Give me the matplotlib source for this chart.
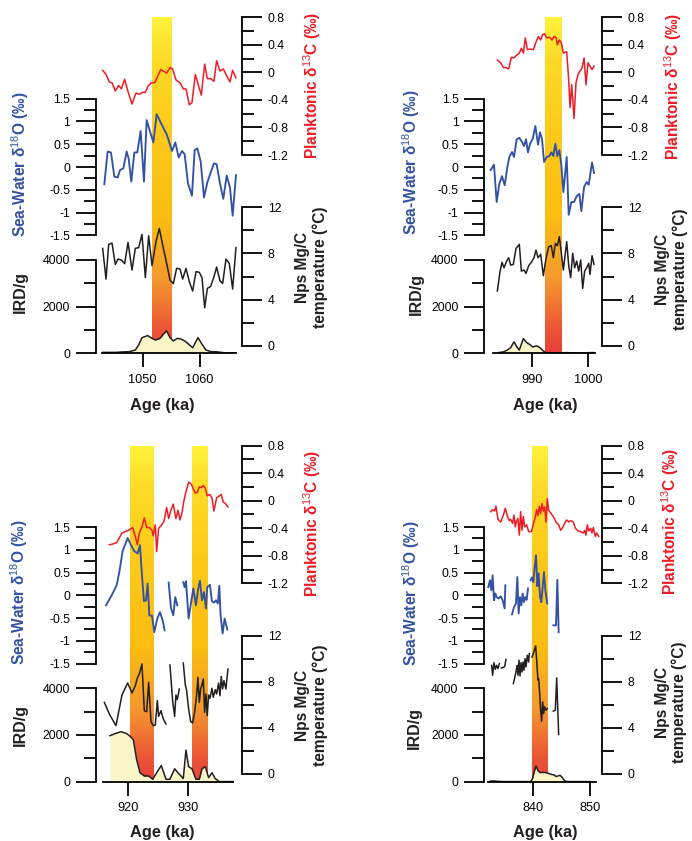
import numpy as np
import matplotlib
matplotlib.use("Agg")
import matplotlib.pyplot as plt
from matplotlib.colors import LinearSegmentedColormap
from matplotlib.ticker import FixedLocator, FuncFormatter

plt.rcParams['font.family'] = ['Liberation Sans', 'DejaVu Sans']
plt.rcParams['mathtext.fontset'] = 'custom'
plt.rcParams['mathtext.rm'] = 'Liberation Sans'
plt.rcParams['mathtext.bf'] = 'Liberation Sans:bold'
plt.rcParams['axes.unicode_minus'] = False

# ---------------- data ----------------
# panel 1 (~1043-1067 ka)
p1_age_c13 = [1043.0, 1043.57, 1044.15, 1044.62, 1045.2, 1045.79, 1046.26, 1046.84, 1047.43, 1048.13,
              1048.83, 1049.42, 1050.0, 1050.47, 1050.94, 1051.52, 1052.11, 1052.57, 1053.16, 1054.21,
              1054.8, 1055.26, 1055.85, 1056.55, 1057.13, 1057.6, 1058.19, 1058.65, 1059.24, 1059.82,
              1060.29, 1060.88, 1061.35, 1061.93, 1062.51, 1062.98, 1063.57, 1064.15, 1064.74, 1065.32,
              1065.79, 1066.37]
p1_c13 = [0.03, -0.03, -0.14, -0.15, -0.27, -0.19, -0.24, -0.10, -0.28, -0.46,
          -0.30, -0.32, -0.29, -0.29, -0.20, -0.15, -0.15, -0.07, 0.04, -0.01,
          0.07, 0.05, -0.11, -0.15, -0.24, -0.24, -0.47, -0.44, -0.03, -0.20,
          -0.33, 0.12, -0.09, -0.09, -0.13, 0.17, 0.02, 0.05, -0.05, -0.14,
          0.03, -0.08]
p1_age_o18 = [1043.27, 1043.86, 1044.44, 1045.03, 1045.61, 1046.02, 1046.61, 1047.19, 1047.54, 1048.01,
              1048.54, 1049.06, 1049.65, 1050.23, 1050.70, 1051.29, 1051.87, 1052.46, 1053.04, 1053.63,
              1054.21, 1054.68, 1055.15, 1055.73, 1056.32, 1056.9, 1057.37, 1057.95, 1058.65, 1059.12,
              1059.59, 1060.18, 1060.76, 1061.35, 1061.93, 1062.51, 1062.98, 1063.57, 1064.15, 1064.74,
              1065.32, 1065.79, 1066.37]
p1_o18 = [-0.38, 0.34, 0.32, -0.21, -0.23, -0.07, -0.03, 0.34, 0.19, -0.32,
          0.32, 0.32, 0.79, -0.32, 1.03, 0.78, 0.54, 1.16, 1.01, 0.86,
          0.72, 0.54, 0.35, 0.54, 0.21, 0.35, 0.28, -0.36, -0.63, 0.37,
          0.41, 0.12, -0.67, -0.34, -0.12, 0.08, 0.06, -0.36, -0.70, -0.19,
          -0.45, -1.07, -0.18]
p1_age_t = [1042.98, 1043.57, 1044.04, 1044.62, 1045.2, 1045.67, 1046.26, 1046.84, 1047.43, 1048.13,
            1048.71, 1049.3, 1049.88, 1050.47, 1051.05, 1051.64, 1052.34, 1052.92, 1053.51, 1054.21,
            1054.8, 1055.38, 1055.96, 1056.55, 1057.02, 1057.6, 1058.19, 1058.77, 1059.36, 1059.94,
            1060.41, 1060.88, 1061.35, 1061.93, 1062.51, 1062.98, 1063.57, 1064.04, 1064.62, 1065.2,
            1065.79, 1066.37]
p1_t = [8.44, 5.78, 8.79, 8.90, 7.05, 7.51, 7.43, 7.11, 8.96, 6.56,
        8.44, 8.50, 9.65, 5.90, 9.54, 6.94, 9.02, 10.17, 8.73, 7.14,
        5.69, 5.38, 6.71, 6.65, 5.78, 6.71, 5.55, 4.74, 6.42, 6.36,
        5.90, 3.29, 4.97, 5.14, 5.98, 6.82, 5.61, 5.40, 7.51, 7.14,
        4.91, 8.50]
p1_age_ird = [1043.0, 1044.15, 1045.32, 1046.49, 1047.66, 1048.71, 1049.3, 1049.88, 1050.88, 1051.64,
              1052.22, 1053.04, 1053.63, 1054.21, 1054.8, 1055.38, 1056.08, 1056.67, 1057.37, 1058.07,
              1058.77, 1059.71, 1060.41, 1061.11, 1061.99, 1062.87, 1063.74, 1064.62, 1065.5, 1066.26]
p1_ird = [40, 40, 40, 60, 70, 140, 360, 670, 760, 640,
          570, 640, 820, 960, 670, 530, 640, 620, 530, 390,
          240, 670, 390, 140, 70, 70, 40, 15, 15, 15]
p1_bands = [(1051.6, 1055.0)]

# panel 2 (~983-1001 ka)
p2_age_c13 = [983.94, 984.53, 985.0, 985.47, 985.94, 986.41, 986.88, 987.35, 987.82, 988.18,
              988.53, 988.88, 989.24, 989.71, 990.29, 990.76, 991.18, 991.59, 991.94, 992.29,
              992.65, 993.12, 993.59, 993.94, 994.29, 994.53, 994.88, 995.24, 995.59, 996.18,
              996.53, 996.76, 997.06, 997.47, 997.82, 998.18, 998.53, 998.88, 999.24, 999.59,
              999.94, 1000.29, 1000.65, 1001.0]
p2_c13 = [0.18, 0.14, 0.07, 0.07, 0.05, 0.22, 0.21, 0.25, 0.28, 0.35,
          0.28, 0.50, 0.33, 0.34, 0.33, 0.44, 0.52, 0.47, 0.55, 0.56,
          0.50, 0.51, 0.47, 0.52, 0.51, 0.40, 0.47, 0.43, 0.28, 0.30,
          -0.11, -0.51, -0.18, -0.67, -0.15, -0.03, 0.02, 0.06, 0.21, -0.18,
          0.14, 0.09, 0.04, 0.09]
p2_age_o18 = [982.76, 983.35, 983.82, 984.29, 984.76, 985.24, 985.71, 986.06, 986.53, 986.88,
              987.35, 987.82, 988.29, 988.65, 989.0, 989.35, 989.71, 990.18, 990.65, 991.12,
              991.47, 991.82, 992.18, 992.65, 993.12, 993.47, 993.82, 994.18, 994.53, 994.88,
              995.24, 995.59, 996.18, 996.53, 997.0, 997.47, 997.94, 998.41, 998.76, 999.24,
              999.71, 1000.06, 1000.65, 1001.0]
p2_o18 = [-0.07, 0.05, -0.77, -0.37, -0.20, -0.40, 0.0, 0.22, 0.33, 0.22,
          0.61, 0.64, 0.55, 0.46, 0.61, 0.32, 0.51, 0.62, 0.90, 0.49,
          0.76, 0.62, 0.11, 0.22, 0.24, 0.32, 0.24, 0.51, 0.24, 0.37,
          0.04, -0.55, 0.22, -1.05, -0.77, -0.77, -0.64, -0.59, -0.97, -0.44,
          -0.33, -0.39, 0.10, -0.13]
p2_age_t = [983.94, 984.41, 984.76, 985.12, 985.59, 985.94, 986.29, 986.76, 987.24, 987.82,
            988.18, 988.65, 989.0, 989.47, 989.94, 990.41, 990.76, 991.12, 991.59, 992.06,
            992.53, 993.0, 993.47, 993.82, 994.18, 994.53, 994.88, 995.24, 995.59, 996.18,
            996.53, 996.88, 997.24, 997.59, 997.94, 998.29, 998.65, 999.0, 999.35, 999.71,
            1000.06, 1000.29, 1000.65, 1001.0]
p2_t = [4.74, 6.42, 7.23, 6.76, 7.34, 7.63, 6.99, 7.05, 8.44, 8.79,
        6.47, 6.56, 6.27, 6.94, 7.23, 7.63, 8.29, 7.63, 7.92, 6.07,
        7.57, 8.58, 8.67, 7.63, 8.87, 8.67, 9.45, 8.01, 6.56, 9.02,
        6.94, 5.90, 8.01, 6.76, 7.34, 6.47, 7.43, 4.97, 6.47, 6.76,
        7.14, 6.18, 7.80, 7.05]
p2_age_ird = [984.12, 985.0, 985.71, 986.29, 986.88, 987.35, 987.82, 988.53, 989.12, 989.71,
              990.18, 990.88, 991.47, 992.06, 992.53, 993.24, 994.41, 996.18, 997.35, 999.12,
              1000.29, 1001.0]
p2_ird = [30, 60, 140, 240, 490, 290, 140, 630, 460, 370,
          270, 320, 240, 100, 30, 15, 15, 30, 15, 15,
          30, 30]
p2_bands = [(992.35, 995.3)]

# panel 3 (~916-937 ka), nan = gap in record
p3_age_c13 = [916.80, 917.36, 918.03, 918.48, 918.93, 919.49, 920.06, 920.73, 921.18, 921.52,
              921.85, 922.3, 922.70, 923.09, 923.54, 923.99, 924.21, 924.55, 924.78, 925.11,
              925.56, 926.01, 926.46, 926.80, 927.13, 927.58, 928.03, 928.37, 928.71, 929.04,
              929.38, 929.72, 930.17, 930.62, 930.96, 931.29, 931.63, 931.97, 932.30, 932.64,
              932.98, 933.31, 933.76, 934.10, 934.44, 934.89, 935.34, 935.67, 936.01, 936.35,
              936.80]
p3_c13 = [-0.64, -0.63, -0.61, -0.54, -0.47, -0.45, -0.43, -0.39, -0.52, -0.64,
          -0.47, -0.38, -0.25, -0.39, -0.39, -0.43, -0.51, -0.35, -0.74, -0.40,
          -0.36, -0.30, -0.10, -0.26, -0.15, -0.05, -0.26, -0.14, -0.28, -0.18,
          0.0, 0.13, 0.27, 0.24, 0.17, 0.11, 0.12, 0.20, 0.19, 0.22,
          0.18, 0.07, 0.09, 0.04, -0.15, 0.04, 0.07, 0.09, -0.02, -0.04,
          -0.09]
p3_age_o18 = [916.24, 916.80, 917.36, 918.03, 918.48, 919.04, 919.89, 920.45, 921.01, 921.57,
              921.97, 922.30, 922.64, 922.98, 923.26, 923.54, 923.99, 924.38, 924.89, 925.34,
              925.79, 926.12, 926.5,
              926.80, 927.19, 927.58, 927.92, 928.26, 928.8,
              929.27, 929.49, 929.72, 930.17, 930.51, 930.96, 931.40, 931.74, 932.08, 932.42,
              932.75, 933.09, 933.31, 933.76, 934.10, 934.44, 934.78, 935.11, 935.34, 935.56,
              935.90, 936.24, 936.69]
p3_o18 = [-0.22, -0.09, 0.04, 0.22, 0.51, 0.97, 1.26, 1.10, 0.97, 0.92,
          1.10, 0.44, -0.13, -0.11, 0.26, -0.44, -0.45, -0.81, -0.51, -0.37,
          -0.55, -0.77, np.nan,
          0.28, -0.28, -0.44, -0.04, -0.22, np.nan,
          0.29, 0.18, 0.31, -0.51, -0.22, 0.15, -0.22, 0.11, 0.32, -0.11,
          0.07, -0.29, 0.18, 0.23, -0.13, -0.16, -0.11, -0.18, 0.21, -0.44,
          -0.84, -0.51, -0.75]
p3_age_t = [915.96, 916.80, 917.92, 918.93, 919.89, 920.62, 921.18, 921.57, 921.85, 922.30,
            922.70, 923.09, 923.43, 923.82, 924.21, 924.55, 924.89, 925.11, 925.51, 925.90,
            926.35, 926.7,
            927.02, 927.47, 927.81, 928.03, 928.26, 928.60, 928.9,
            929.27, 929.61, 929.83, 930.17, 930.51, 930.84, 931.18, 931.52, 931.74, 931.97,
            932.19, 932.42, 932.64, 932.87, 933.09, 933.31, 933.54, 933.76, 934.10, 934.33,
            934.66, 934.89, 935.22, 935.45, 935.67, 935.90, 936.12, 936.46, 936.80]
p3_t = [6.21, 5.20, 4.19, 6.85, 7.89, 7.02, 7.66, 8.38, 8.67, 9.54,
        5.49, 5.40, 7.95, 4.54, 4.19, 4.25, 6.36, 5.0, 5.49, 4.77,
        4.34, np.nan,
        9.45, 6.36, 5.0, 6.85, 6.45, 7.37, np.nan,
        9.62, 7.72, 7.23, 5.64, 4.54, 4.42, 5.35, 6.85, 8.38, 6.21,
        7.37, 7.72, 8.24, 5.35, 6.94, 5.06, 6.85, 6.56, 7.43, 6.65,
        7.31, 6.94, 7.89, 6.79, 8.47, 7.37, 8.09, 7.37, 9.10]
p3_age_ird = [916.91, 917.81, 918.76, 919.72, 920.17, 920.84, 921.40, 921.97, 922.70, 923.43,
              924.10, 924.78, 925.56, 926.35, 927.02, 927.81, 928.48, 929.27, 929.72, 930.17,
              930.73, 931.40, 931.97, 932.42, 932.98, 933.54, 934.10, 934.66, 935.34, 937.58]
p3_ird = [1970, 2060, 2140, 2060, 1970, 1800, 950, 380, 240, 240,
          100, 380, 690, 100, 100, 550, 350, 130, 1350, 640,
          550, 100, 100, 550, 640, 170, 380, 130, 0, 0]
p3_bands = [(920.3, 924.3), (930.75, 933.4)]

# panel 4 (~832-852 ka)
p4_age_c13 = [832.47, 832.82, 833.18, 833.41, 833.76, 834.24, 834.71, 835.06, 835.41, 835.76,
              836.0, 836.35, 836.59, 836.82, 837.06, 837.29, 837.53, 837.76, 838.0, 838.24,
              838.47, 838.82, 839.18, 839.65, 840.0, 840.35, 840.59, 840.82, 841.06, 841.29,
              841.53, 841.76, 842.0, 842.24, 842.47, 842.71, 843.06, 843.53, 844.0, 844.47,
              844.82, 845.18, 845.53, 845.88, 846.24, 846.59, 847.06, 847.41, 847.88, 848.35,
              848.82, 849.06, 849.29, 849.53, 849.76, 850.12, 850.35, 850.59, 850.94, 851.18,
              851.53]
p4_c13 = [-0.16, -0.13, -0.15, -0.08, -0.27, -0.31, -0.21, -0.11, -0.22, -0.29,
          -0.27, -0.33, -0.21, -0.38, -0.29, -0.26, -0.50, -0.16, -0.43, -0.23,
          -0.38, -0.35, -0.45, -0.45, -0.34, -0.24, -0.13, -0.22, -0.08, -0.19,
          -0.04, -0.15, -0.09, -0.31, 0.03, -0.14, -0.18, -0.23, -0.31, -0.35,
          -0.43, -0.39, -0.33, -0.28, -0.31, -0.29, -0.31, -0.40, -0.44, -0.45,
          -0.47, -0.43, -0.50, -0.35, -0.44, -0.40, -0.47, -0.39, -0.52, -0.47,
          -0.52]
p4_age_o18 = [832.06, 832.35, 832.59, 832.82, 833.06, 833.29, 833.53, 833.88, 834.24, 834.59,
              834.94, 835.06, 835.6,
              836.24, 836.59, 836.94, 837.18, 837.41, 837.65, 837.88, 838.12, 838.35, 838.59,
              838.82, 839.06, 839.3,
              839.53, 839.76, 840.0, 840.24, 840.47, 840.71, 840.94, 841.18, 841.41, 841.65,
              841.88, 842.12, 842.47, 843.0,
              843.53, 844.0, 844.24, 844.47]
p4_o18 = [0.18, 0.33, 0.11, 0.44, -0.11, 0.04, -0.04, -0.07, -0.02, -0.11,
          -0.29, 0.22, np.nan,
          -0.42, -0.26, -0.18, 0.40, -0.40, -0.04, -0.22, 0.04, -0.15, -0.04,
          -0.10, 0.15, np.nan,
          0.33, 0.39, 0.29, 0.62, 0.88, 0.20, 0.48, -0.04, -0.15, 0.18,
          0.51, 0.11, -0.18, np.nan,
          -0.66, -0.66, 0.34, -0.81]
p4_age_t = [832.65, 832.82, 833.06, 833.29, 833.53, 833.76, 834.0, 834.2,
            834.35, 834.71, 834.94, 835.18, 835.8,
            836.47, 836.71, 836.94, 837.12, 837.29, 837.47, 837.65, 837.82, 838.0, 838.18,
            838.35, 838.53, 838.71, 838.94, 839.18, 839.29, 839.5,
            839.76, 840.0, 840.24, 840.41, 840.59, 840.82, 840.94, 841.12, 841.29, 841.47,
            841.65, 841.82, 842.0, 842.24, 842.47, 843.0,
            843.53, 843.88, 844.12, 844.47]
p4_t = [9.42, 8.56, 9.65, 9.08, 9.42, 9.14, 9.57, np.nan,
        9.19, 9.25, 9.31, 9.94, np.nan,
        7.84, 8.33, 8.85, 9.42, 8.56, 9.86, 8.50, 9.65, 8.85, 9.71,
        8.99, 10.0, 9.28, 10.29, 9.71, 10.43, np.nan,
        10.14, 10.43, 10.86, 11.1, 9.86, 8.13, 8.27, 6.97, 5.53, 4.58,
        6.25, 5.24, 5.82, 5.53, 5.68, np.nan,
        5.45, 5.53, 8.33, 3.43]
p4_age_ird = [832.35, 832.94, 833.53, 834.71, 836.47, 838.24, 839.53, 839.88, 840.12, 840.47,
              840.82, 841.18, 841.65, 842.12, 842.59, 842.94, 843.29, 843.65, 844.0, 844.35,
              844.71, 845.06, 845.41, 845.88, 847.65, 849.41, 850.12]
p4_ird = [15, 30, 15, 0, 0, 0, 0, 140, 390, 670,
          470, 390, 390, 390, 360, 330, 300, 290, 220, 240,
          270, 190, 70, 0, 0, 0, 0]
p4_bands = [(839.75, 842.4)]

# ---------------- layout (pixels of the 692x841 picture) ----------------
W, H = 692, 841
BLUE = '#3352a3'
RED = '#ee1c25'
BLACK = '#231f20'
FILL = '#f8f5c8'

band_cmap = LinearSegmentedColormap.from_list('band', [
    (0.0, '#fff33b'), (0.12, '#fddb28'), (0.35, '#fcc91a'), (0.6, '#fbbd12'),
    (0.78, '#f49a2e'), (0.93, '#eb5536'), (1.0, '#e8403a')])

fmt = FuncFormatter(lambda v, p: f'{round(v, 3):g}')


def rect(x0, y0, x1, y1):
    return [x0 / W, 1 - y1 / H, (x1 - x0) / W, (y1 - y0) / H]


def style_y(ax, side, lo, hi, major, minor):
    ax.patch.set_visible(False)
    for s in ax.spines:
        ax.spines[s].set_visible(s == side)
        ax.spines[s].set_linewidth(1.3)
    ax.set_ylim(lo, hi)
    ax.set_xticks([])
    if side == 'right':
        ax.yaxis.tick_right()
    ax.yaxis.set_major_locator(FixedLocator(major))
    ax.yaxis.set_minor_locator(FixedLocator(minor))
    ax.yaxis.set_major_formatter(fmt)
    ax.tick_params(axis='y', which='major', direction='out', length=14.5, width=1.3,
                   labelsize=8.8, pad=4, colors='black')
    ax.tick_params(axis='y', which='minor', direction='out', length=8.6, width=1.3)


def draw_panel(col, row, xlim, span, xt, bands, c13, o18, temp, ird, labels):
    L = [95.7, 484.3][col]
    R = [242.0, 602.3][col]
    dy = [0, 428.3][row]

    # warm interval shading
    axb = fig.add_axes(rect(L, 17.3 + dy, R, 353.3 + dy))
    axb.set_xlim(*xlim)
    axb.set_ylim(0, 1)
    axb.axis('off')
    grad = np.linspace(0, 1, 256).reshape(-1, 1)
    for b0, b1 in bands:
        axb.imshow(grad, extent=(b0, b1, 0, 1), aspect='auto', cmap=band_cmap)
    axb.set_xlim(*xlim)

    # planktonic d13C
    ax1 = fig.add_axes(rect(L, 17.3 + dy, R, 155.0 + dy))
    ax1.set_xlim(*xlim)
    style_y(ax1, 'right', -1.2, 0.8, np.linspace(-1.2, 0.8, 6), np.linspace(-1.2, 0.8, 11))
    ax1.plot(c13[0], c13[1], color=RED, lw=1.1, clip_on=False)

    # sea-water d18O
    ax2 = fig.add_axes(rect(L, 98.7 + dy, R, 235.3 + dy))
    ax2.set_xlim(*xlim)
    style_y(ax2, 'left', -1.5, 1.5, np.linspace(-1.5, 1.5, 7), np.linspace(-1.5, 1.5, 13))
    ax2.plot(o18[0], o18[1], color=BLUE, lw=1.35, clip_on=False)

    # Mg/Ca temperature
    ax3 = fig.add_axes(rect(L, 207.3 + dy, R, 345.7 + dy))
    ax3.set_xlim(*xlim)
    style_y(ax3, 'right', 0, 12, [0, 4, 8, 12], [2, 6, 10])
    ax3.plot(temp[0], temp[1], color=BLACK, lw=1.1, clip_on=False)

    # IRD + age axis
    ax4 = fig.add_axes(rect(L, 260.0 + dy, R, 353.3 + dy))
    ax4.set_xlim(*xlim)
    style_y(ax4, 'left', 0, 4000, [0, 2000, 4000], [1000, 3000])
    ax4.spines['bottom'].set_visible(True)
    ax4.spines['bottom'].set_bounds(*span)
    ax4.set_xticks(xt)
    ax4.tick_params(axis='x', direction='out', length=10, width=1.3, labelsize=9.2, pad=5)
    ax4.fill_between(ird[0], 0, ird[1], color=FILL, lw=0)
    ax4.plot(ird[0], ird[1], color=BLACK, lw=1.1)

    # axis titles
    (xo, yo), (xi, yi), (xc, yc), (xtm, ytm), (xa, ya) = labels
    fig.text(xo / W, 1 - yo / H, r'Sea-Water δ$^{\mathrm{18}}$O (‰)', color=BLUE,
             rotation=90, ha='center', va='center', fontsize=11.2, fontweight='bold')
    fig.text(xi / W, 1 - yi / H, 'IRD/g', color=BLACK, rotation=90, ha='center', va='center',
             fontsize=11.5, fontweight='bold')
    fig.text(xc / W, 1 - yc / H, r'Planktonic δ$^{\mathrm{13}}$C (‰)', color=RED,
             rotation=90, ha='center', va='center', fontsize=11.2, fontweight='bold')
    fig.text(xtm / W, 1 - ytm / H, 'Nps Mg/C\ntemperature (°C)', color=BLACK, rotation=90,
             ha='center', va='center', multialignment='center', fontsize=11.2,
             fontweight='bold', linespacing=1.15)
    fig.text(xa / W, 1 - ya / H, 'Age (ka)', color='#231f20', ha='center', va='center',
             fontsize=11.8, fontweight='bold')


fig = plt.figure(figsize=(6.92, 8.41), dpi=100)

draw_panel(0, 0, (1041.76, 1067.43), (1042.9, 1066.3), [1050, 1060], p1_bands,
           (p1_age_c13, p1_c13), (p1_age_o18, p1_o18), (p1_age_t, p1_t), (p1_age_ird, p1_ird),
           [(20, 164), (20.7, 292), (312.3, 85.5), (311.7, 267), (162.7, 405)])
draw_panel(1, 0, (981.64, 1002.46), (983.1, 1001.1), [990, 1000], p2_bands,
           (p2_age_c13, p2_c13), (p2_age_o18, p2_o18), (p2_age_t, p2_t), (p2_age_ird, p2_ird),
           [(411, 162), (416, 294), (672.7, 86.7), (671.7, 269), (545.3, 405)])
draw_panel(0, 1, (914.5, 939.17), (915.7, 937.6), [920, 930], p3_bands,
           (p3_age_c13, p3_c13), (p3_age_o18, p3_o18), (p3_age_t, p3_t), (p3_age_ird, p3_ird),
           [(19.5, 592.5), (20.7, 725), (312, 523), (311.7, 705), (162.7, 832.7)])
draw_panel(1, 1, (831.35, 852.17), (832.0, 851.0), [840, 850], p4_bands,
           (p4_age_c13, p4_c13), (p4_age_o18, p4_o18), (p4_age_t, p4_t), (p4_age_ird, p4_ird),
           [(411, 593), (414, 727.7), (670, 521.7), (671, 702.3), (545.3, 832.7)])

fig.savefig('out.png', dpi=100)
